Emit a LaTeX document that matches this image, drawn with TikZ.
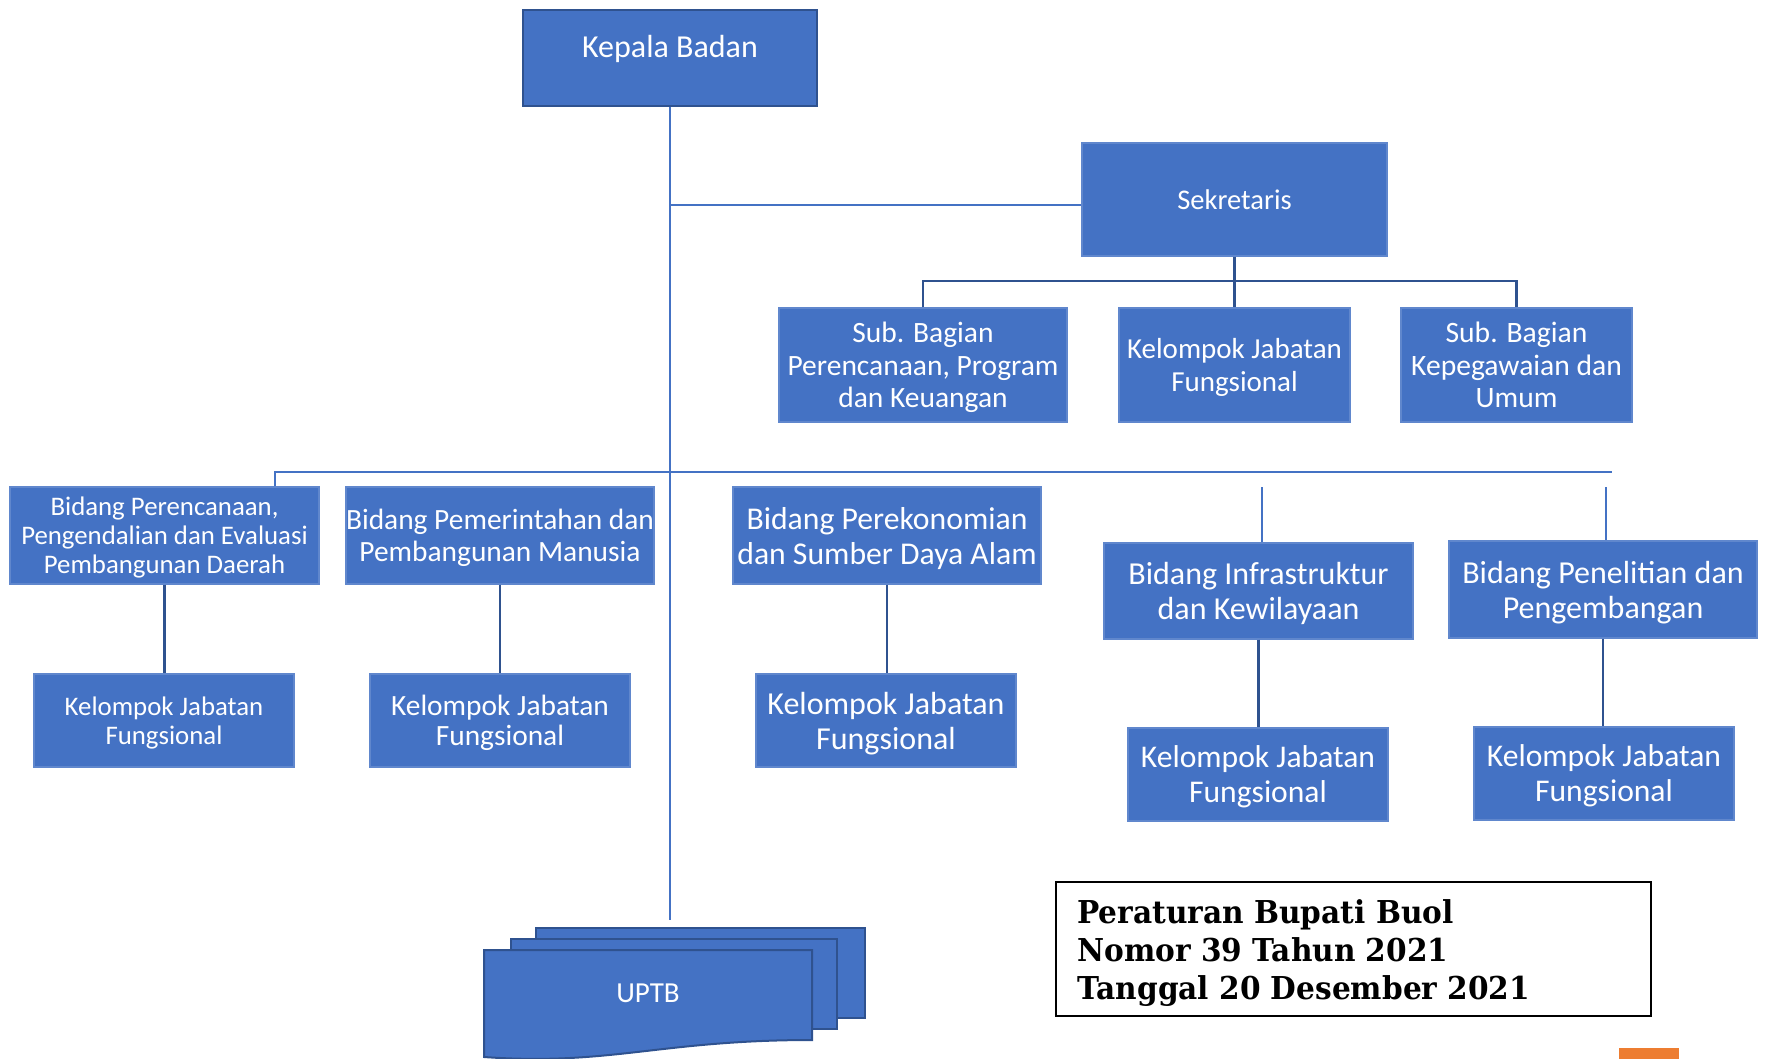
\documentclass[tikz,border=0pt]{standalone}
\usepackage{fontspec}
\setmainfont{Carlito}
\newfontfamily\legfont[FakeStretch=0.94]{DejaVu Serif}
\definecolor{boxblue}{HTML}{4472C4}
\definecolor{darkblue}{HTML}{2F528F}
\definecolor{orangebar}{HTML}{ED7D31}
\tikzset{
  box/.style={fill=boxblue, draw=boxblue!85!white, line width=0.6pt, text=white, align=center, inner sep=0pt, text depth=0pt},
  conn/.style={draw=boxblue, line width=1.4pt},
  dconn/.style={draw=darkblue, line width=1.4pt},
  sheet/.style={fill=boxblue, draw=darkblue, line width=1pt},
}
\begin{document}
\begin{tikzpicture}[x=0.5pt,y=-0.5pt]
\useasboundingbox (0,0) rectangle (1765,1059);

% Kepala Badan
\node[box, draw=darkblue, line width=1pt, minimum width=147pt, minimum height=48pt] (kb) at (670,58) {};
\node[text=white, font=\fontsize{16}{19}\selectfont, inner sep=0pt] (kbt) at (670,49) {Kepala Badan};

% Sekretaris
\node[box, minimum width=152.5pt, minimum height=56.5pt, font=\fontsize{14.25}{17}\selectfont] (sek) at (1234.5,199.5) {Sekretaris};

% Sub boxes
\node[box, minimum width=144pt, minimum height=57pt, font=\fontsize{14.75}{16.25}\selectfont] (sub1) at (923,365) {Sub. Bagian\\Perencanaan, Program\\dan Keuangan};
\node[box, minimum width=115.5pt, minimum height=57pt, font=\fontsize{14.5}{16.25}\selectfont] (sub2) at (1234.5,365) {Kelompok Jabatan\\Fungsional};
\node[box, minimum width=115.5pt, minimum height=57pt, font=\fontsize{14.8}{16.25}\selectfont] (sub3) at (1516.5,365) {Sub. Bagian\\Kepegawaian dan\\Umum};

% Bidang
\node[box, minimum width=154.5pt, minimum height=48.5pt, font=\fontsize{13.4}{14.5}\selectfont] (bid1) at (164.5,535.5) {Bidang Perencanaan,\\Pengendalian dan Evaluasi\\Pembangunan Daerah};
\node[box, minimum width=154pt, minimum height=48.5pt, font=\fontsize{14.7}{15.85}\selectfont] (bid2) at (500,535.5) {Bidang Pemerintahan dan\\Pembangunan Manusia};
\node[box, minimum width=154pt, minimum height=48.5pt, font=\fontsize{15.85}{17.5}\selectfont] (bid3) at (887,535.5) {Bidang Perekonomian\\dan Sumber Daya Alam};
\node[box, minimum width=154.5pt, minimum height=48pt, font=\fontsize{16}{17.5}\selectfont] (bid4) at (1258.5,591) {Bidang Infrastruktur\\dan Kewilayaan};
\node[box, minimum width=154pt, minimum height=48.5pt, font=\fontsize{16}{17.5}\selectfont] (bid5) at (1603,589.5) {Bidang Penelitian dan\\Pengembangan};

% Kelompok
\node[box, minimum width=130pt, minimum height=46.5pt, font=\fontsize{13.4}{14.2}\selectfont] (kel1) at (164,720.5) {Kelompok Jabatan\\Fungsional};
\node[box, minimum width=130pt, minimum height=46.5pt, font=\fontsize{14.7}{15}\selectfont] (kel2) at (500,720.5) {Kelompok Jabatan\\Fungsional};
\node[box, minimum width=130pt, minimum height=46.5pt, font=\fontsize{16}{17.5}\selectfont] (kel3) at (886,720.5) {Kelompok Jabatan\\Fungsional};
\node[box, minimum width=130pt, minimum height=46.5pt, font=\fontsize{15.8}{17.5}\selectfont] (kel4) at (1258,774.5) {Kelompok Jabatan\\Fungsional};
\node[box, minimum width=130pt, minimum height=46.5pt, font=\fontsize{15.8}{17.5}\selectfont] (kel5) at (1604,773.5) {Kelompok Jabatan\\Fungsional};

% UPTB stacked documents
\draw[sheet] (536,928) rectangle (865,1018);
\draw[sheet] (511,939) rectangle (837,1029);
\draw[sheet] (484,950) -- (812,950) -- (812,1040) .. controls (660,1040) and (610,1066) .. (484,1057) -- cycle;
\node[text=white, font=\fontsize{14.5}{17}\selectfont, inner sep=0pt] (uptb) at (648,993) {UPTB};

% Connectors
\coordinate (mainend) at (670,920);
\coordinate (j1) at (670,205);
\coordinate (barL) at (275,472);
\coordinate (barR) at (1612,472);
\coordinate (sb) at (1234.5,281);
\coordinate (s4) at (1262,487);
\coordinate (s5) at (1606,487);

\draw[conn] (kb.south) -- (kb.south |- mainend);
\draw[conn] (j1) -- (j1 -| sek.west);
\draw[conn] (barL |- bid1.north) -- (barL) -- (barR);
\draw[conn] (s4) -- (s4 |- bid4.north);
\draw[conn] (s5) -- (s5 |- bid5.north);

\draw[dconn] (sek.south) -- (sub2.north);
\draw[dconn] (sub1.north) -- (sub1.north |- sb) -- (sub3.north |- sb) -- (sub3.north);

\draw[dconn] (bid1.south) -- (bid1.south |- kel1.north);
\draw[dconn] (bid2.south) -- (bid2.south |- kel2.north);
\draw[dconn] (bid3.south) -- (bid3.south |- kel3.north);
\draw[dconn] (bid4.south) -- (bid4.south |- kel4.north);
\draw[dconn] (bid5.south) -- (bid5.south |- kel5.north);

% Legend
\node[draw=black, line width=1pt, minimum width=297.5pt, minimum height=67pt, inner sep=0pt] (leg) at (1353.5,949) {};
\node[anchor=west, align=left, inner sep=0pt, font=\legfont\bfseries\fontsize{15.75}{18.9}\selectfont] (legt) at (1077,953) {Peraturan Bupati Buol\\Nomor 39 Tahun 2021\\Tanggal 20 Desember 2021};

% Orange bar
\fill[orangebar] (1619,1048) rectangle (1679,1059);
\end{tikzpicture}
\end{document}
